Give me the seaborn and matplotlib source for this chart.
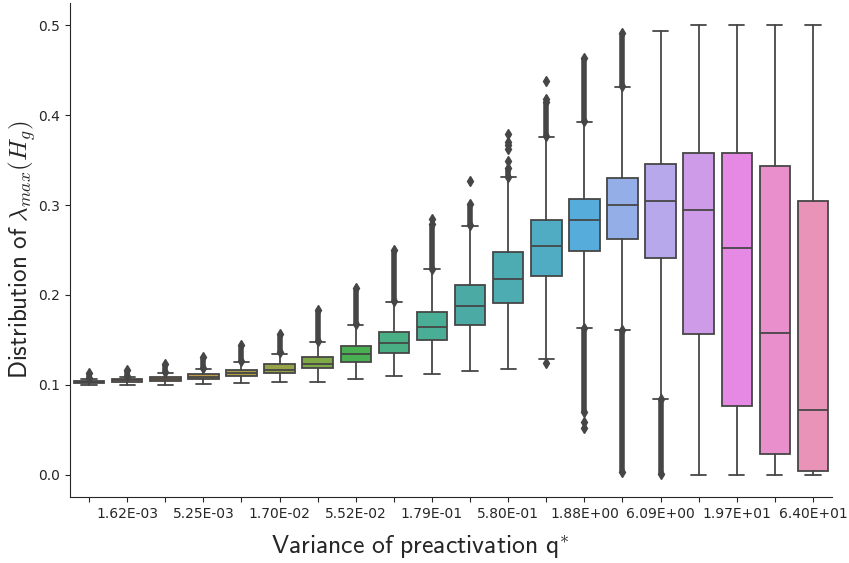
import matplotlib
matplotlib.use("Agg")
import colorsys
import matplotlib.pyplot as plt
import numpy as np
import seaborn as sns

# variance of preactivation q* (tick labels on every other box)
q_labels = ["", "1.62E-03", "", "5.25E-03", "", "1.70E-02", "", "5.52E-02", "", "1.79E-01",
            "", "5.80E-01", "", "1.88E+00", "", "6.09E+00", "", "1.97E+01", "", "6.40E+01"]

# box statistics
q1 = [0.1020, 0.1033, 0.1044, 0.1067, 0.1096, 0.1133, 0.1189, 0.1259, 0.1359, 0.1493,
      0.1670, 0.1915, 0.2211, 0.2492, 0.2619, 0.2407, 0.1570, 0.0767, 0.0230, 0.0040]
med = [0.1035, 0.1050, 0.1065, 0.1090, 0.1130, 0.1170, 0.1233, 0.1337, 0.1463, 0.1640,
       0.1874, 0.2181, 0.2540, 0.2833, 0.2996, 0.3048, 0.2948, 0.2526, 0.1574, 0.0719]
q3 = [0.1044, 0.1063, 0.1085, 0.1115, 0.1163, 0.1226, 0.1304, 0.1426, 0.1585, 0.1807,
      0.2115, 0.2474, 0.2837, 0.3067, 0.3300, 0.3456, 0.3574, 0.3574, 0.3437, 0.3044]
whis_lo = [0.0997, 0.1000, 0.1000, 0.1007, 0.1015, 0.1026, 0.1033, 0.1067, 0.1096, 0.1115,
           0.1148, 0.1181, 0.1289, 0.1633, 0.1611, 0.0841, 0.0000, 0.0000, 0.0000, 0.0000]
whis_hi = [0.1067, 0.1090, 0.1133, 0.1180, 0.1256, 0.1344, 0.1478, 0.1670, 0.1922, 0.2285,
           0.2770, 0.3307, 0.3759, 0.3926, 0.4311, 0.4933, 0.5000, 0.5000, 0.5000, 0.5000]

# outliers: dense runs (box index, lowest, highest) and isolated points
flier_runs = [(0, 0.1075, 0.1130), (1, 0.1100, 0.1160), (2, 0.1140, 0.1230), (3, 0.1190, 0.1310),
              (4, 0.1270, 0.1440), (5, 0.1360, 0.1570), (6, 0.1490, 0.1830), (7, 0.1680, 0.2080),
              (8, 0.1930, 0.2496), (9, 0.2290, 0.2790), (10, 0.2780, 0.3015), (11, 0.3310, 0.3410),
              (12, 0.3770, 0.4150), (13, 0.3930, 0.4637), (13, 0.0692, 0.1630), (14, 0.4320, 0.4915),
              (14, 0.0030, 0.1610), (15, 0.0005, 0.0840)]
flier_pts = {9: [0.2844], 10: [0.3267], 11: [0.3490, 0.3626, 0.3665, 0.3700, 0.3785],
             12: [0.4180, 0.4380, 0.1244], 13: [0.0585, 0.0515]}

sns.set_style("ticks")
plt.rcParams["mathtext.fontset"] = "cm"

n = len(q_labels)
colors = [sns.desaturate(c, 0.75) for c in sns.husl_palette(n, l=.7)]
# old seaborn line colour: darkened from the lightest-dark box colour
lum = min(colorsys.rgb_to_hls(*c)[1] for c in colors) * .6
gray = (lum, lum, lum)

fig, ax = plt.subplots(figsize=(8.49, 5.63), dpi=100)

stats = []
for i in range(n):
    pts = [v for (k, lo, hi) in flier_runs if k == i for v in (lo, hi)] + flier_pts.get(i, [])
    stats.append(dict(med=med[i], q1=q1[i], q3=q3[i], whislo=whis_lo[i], whishi=whis_hi[i],
                      fliers=pts))

bp = ax.bxp(stats, positions=np.arange(n), widths=0.8, capwidths=0.4, patch_artist=True,
            boxprops=dict(edgecolor=gray, linewidth=1.3),
            medianprops=dict(color=gray, linewidth=1.3),
            whiskerprops=dict(color=gray, linewidth=1.3),
            capprops=dict(color=gray, linewidth=1.3),
            flierprops=dict(marker="d", markersize=5, markerfacecolor=gray,
                            markeredgecolor=gray))
for patch, c in zip(bp["boxes"], colors):
    patch.set_facecolor(c)

for k, lo, hi in flier_runs:
    ax.vlines(k, lo, hi, color=gray, linewidth=4, zorder=2)

ax.set_xlim(-0.5, n - 0.5)
ax.set_ylim(-0.025, 0.525)
ax.set_yticks([0.0, 0.1, 0.2, 0.3, 0.4, 0.5])
ax.set_xticks(np.arange(n))
ax.set_xticklabels(q_labels)
ax.tick_params(labelsize=10, colors="#262626")
ax.set_xlabel(r"$\mathsf{Variance\ of\ preactivation\ q}^{*}$", fontsize=18.5, color="#262626")
ax.xaxis.set_label_coords(0.46, -0.074)
ax.set_ylabel(r"$\mathsf{Distribution\ of}\ \lambda_{max}(H_g)$", fontsize=18, labelpad=0,
              color="#262626")
sns.despine()

fig.subplots_adjust(left=0.0825, right=0.98, top=0.995, bottom=0.117)
fig.savefig("out.png", dpi=100)
